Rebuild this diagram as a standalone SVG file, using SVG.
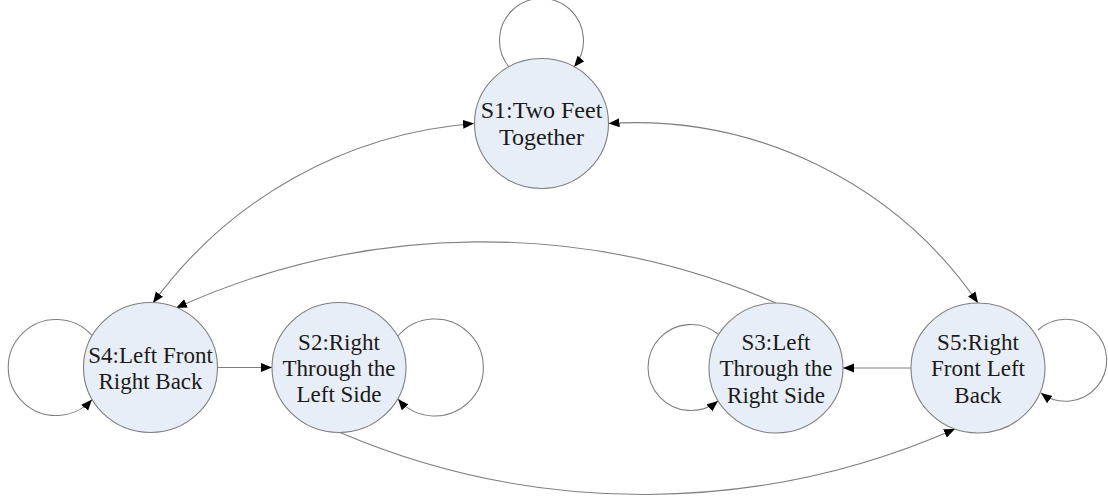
<svg xmlns="http://www.w3.org/2000/svg" width="1108" height="502" viewBox="0 0 1108 502">
<style>
  .bg { fill: #ffffff; }
  .node { fill: #e8eef7; stroke: #7f7f7f; stroke-width: 1.1; }
  .lbl { font-family: "Liberation Serif", "Times New Roman", serif; font-size: 23px; fill: #1a1a1a; text-anchor: middle; }
  .edge { fill: none; stroke: #7f7f7f; stroke-width: 1.1; }
  .loop { fill: none; stroke: #7f7f7f; stroke-width: 1.1; marker-end: url(#arr); }
  .one { marker-end: url(#arr); }
  .two { marker-start: url(#arrS); marker-end: url(#arr); }
</style>
<defs>
  <marker id="arr" markerUnits="userSpaceOnUse" markerWidth="12" markerHeight="10" refX="11" refY="4.5" orient="auto">
    <path d="M0,0 L11,4.5 L0,9 z" fill="#000"/>
  </marker>
  <marker id="arrS" markerUnits="userSpaceOnUse" markerWidth="12" markerHeight="10" refX="11" refY="4.5" orient="auto-start-reverse">
    <path d="M0,0 L11,4.5 L0,9 z" fill="#000"/>
  </marker>
</defs>
<rect class="bg" x="0" y="0" width="1108" height="502"/>

<g id="connectors">
  <path class="loop" d="M509,67 A42,42 0 1,1 574,67"/>
  <path class="loop" d="M92,335.5 A48,48 0 1,0 92,399.5"/>
  <path class="loop" d="M398,336 A48.5,48.5 0 1,1 398,399"/>
  <path class="loop" d="M718,334 A43,43 0 1,0 718,401"/>
  <path class="loop" d="M1038,330 A41,41 0 1,1 1041,393"/>
  <path class="edge two" d="M474,123.5 A439,439 0 0,0 153,303"/>
  <path class="edge two" d="M608.5,123.5 A417,417 0 0,1 978,303"/>
  <path class="edge one" d="M776,303 A739,739 0 0,0 176,308"/>
  <path class="edge one" d="M340,432.5 A774,774 0 0,0 955,429"/>
  <path class="edge one" d="M217.5,367.5 L272,367.5"/>
  <path class="edge one" d="M911,368 L843,368"/>
</g>

<g id="S1">
  <ellipse class="node" cx="541.5" cy="123.5" rx="67" ry="65"/>
  <text class="lbl" x="541.5" y="118" style="font-size:24px">S1:Two Feet</text>
  <text class="lbl" x="541.5" y="144.5" style="font-size:24px">Together</text>
</g>
<g id="S4">
  <ellipse class="node" cx="150.5" cy="367.5" rx="67" ry="65"/>
  <text class="lbl" x="150.5" y="362.5">S4:Left Front</text>
  <text class="lbl" x="150.5" y="388.5">Right Back</text>
</g>
<g id="S2">
  <ellipse class="node" cx="339" cy="367.5" rx="67" ry="65"/>
  <text class="lbl" x="339" y="349.5">S2:Right</text>
  <text class="lbl" x="339" y="375.5">Through the</text>
  <text class="lbl" x="339" y="402">Left Side</text>
</g>
<g id="S3">
  <ellipse class="node" cx="776" cy="368" rx="67" ry="65"/>
  <text class="lbl" x="776" y="350">S3:Left</text>
  <text class="lbl" x="776" y="376">Through the</text>
  <text class="lbl" x="776" y="402.5">Right Side</text>
</g>
<g id="S5">
  <ellipse class="node" cx="978" cy="368" rx="67" ry="65"/>
  <text class="lbl" x="978" y="350">S5:Right</text>
  <text class="lbl" x="978" y="376">Front Left</text>
  <text class="lbl" x="978" y="402.5">Back</text>
</g>
</svg>
